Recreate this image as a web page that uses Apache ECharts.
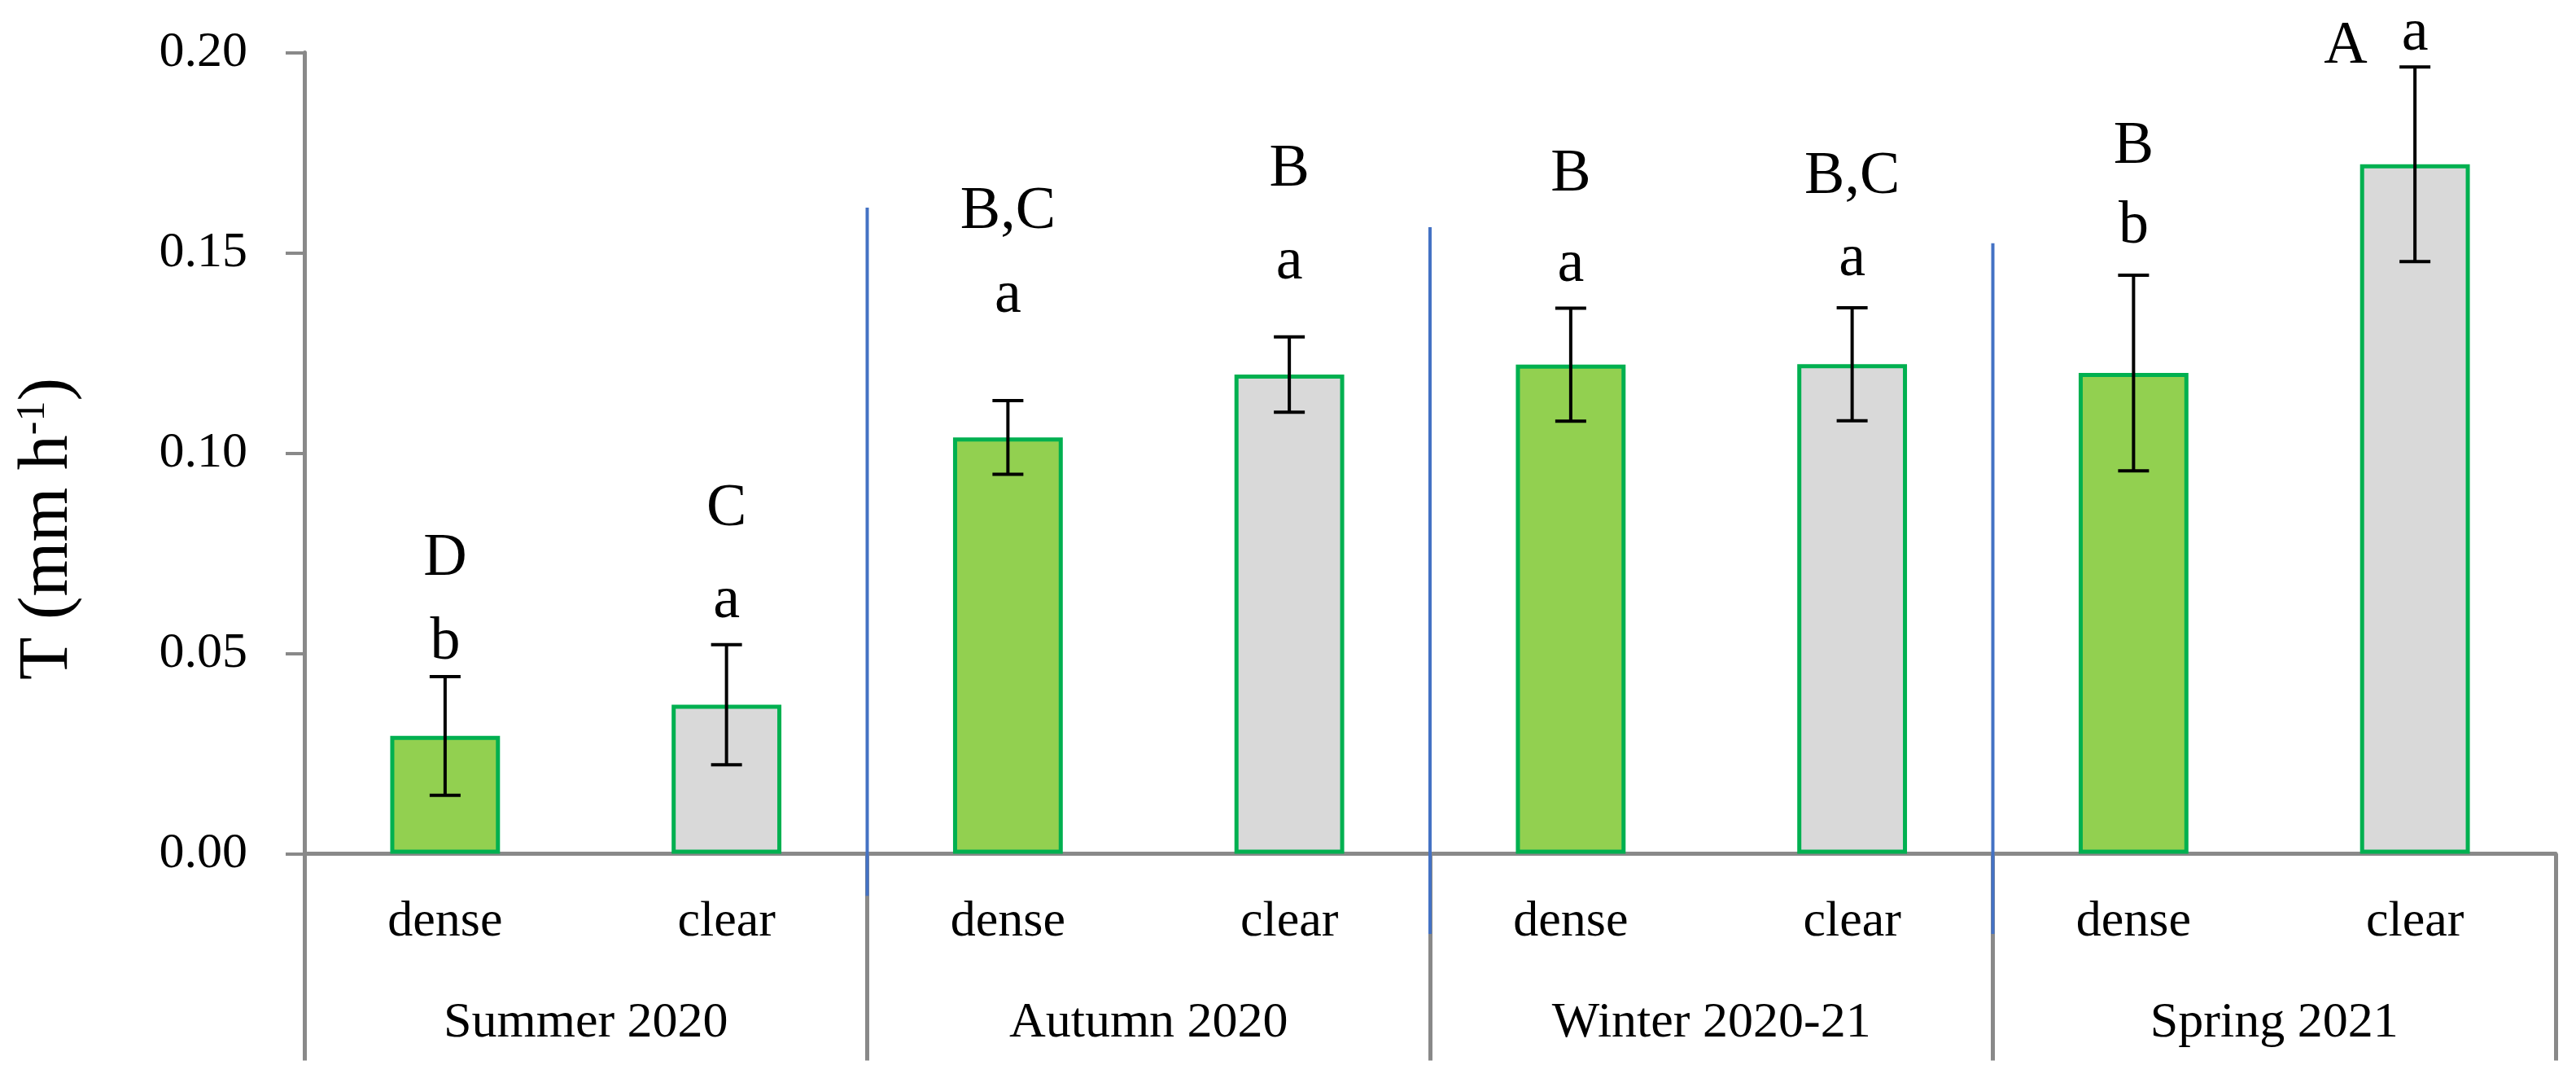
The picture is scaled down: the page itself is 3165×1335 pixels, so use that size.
<!DOCTYPE html>
<html>
<head>
<meta charset="utf-8">
<script src="https://cdn.jsdelivr.net/npm/echarts@6/dist/echarts.min.js"></script>
<style>
html,body{margin:0;padding:0;background:#fff;}
#chart{width:3165px;height:1335px;}
</style>
</head>
<body>
<div id="chart"></div>
<script>
// ---- data ----
const categories = ['dense', 'clear', 'dense', 'clear', 'dense', 'clear', 'dense', 'clear'];
const seasons = ['Summer 2020', 'Autumn 2020', 'Winter 2020-21', 'Spring 2021'];
const meanT = [0.0294, 0.0372, 0.1039, 0.1196, 0.1221, 0.1222, 0.1200, 0.1721];
const errT  = [0.0148, 0.0150, 0.0092, 0.0094, 0.0141, 0.0141, 0.0244, 0.0243];
const upperLetters = ['D', 'C', 'B,C', 'B', 'B', 'B,C', 'B', 'A'];
const lowerLetters = ['b', 'a', 'a', 'a', 'a', 'a', 'b', 'a'];
// letter anchors (baseline, in T units)
const upperAt = [0.0684, 0.0808, 0.1550, 0.1656, 0.1644, 0.1639, 0.1714, 0.1963];
const lowerAt = [0.0475, 0.0579, 0.1342, 0.1425, 0.1418, 0.1433, 0.1515, 0.1996];
// season divider lines: [category boundary index, top T, bottom T]
const dividers = [[2, 0.1613, -0.0105], [4, 0.1564, -0.0200], [6, 0.1524, -0.0200]];
const yMin = 0, yMax = 0.20, yStep = 0.05;

const FONT = '"Liberation Serif", "Times New Roman", serif';
const GRAY = '#898989';
const chart = echarts.init(document.getElementById('chart'), null, {renderer: 'canvas'});

const option = {
  animation: false,
  backgroundColor: '#ffffff',
  grid: {left: 374, right: 25, top: 64.5, bottom: 286.5, containLabel: false, outerBoundsMode: 'none'},
  xAxis: [
    {
      type: 'category', data: categories, position: 'bottom',
      axisLine: {show: true, lineStyle: {color: GRAY, width: 5}},
      axisTick: {show: false},
      axisLabel: {interval: 0, margin: 53, color: '#000', fontFamily: FONT, fontSize: 62}
    },
    {
      type: 'category', data: seasons, position: 'bottom', offset: 0,
      axisLine: {show: false},
      axisTick: {show: true, length: 254, interval: 0, lineStyle: {color: GRAY, width: 5}},
      axisLabel: {interval: 0, margin: 177, color: '#000', fontFamily: FONT, fontSize: 62}
    }
  ],
  yAxis: {
    type: 'value', min: yMin, max: yMax, interval: yStep,
    name: '{n|T (mm h}{s|-1}{n|)}',
    nameLocation: 'middle', nameRotate: 90, nameGap: 272,
    nameTextStyle: {
      color: '#000', fontFamily: FONT, fontSize: 86, padding: [0, 186, 0, 0],
      rich: {
        n: {fontFamily: FONT, fontSize: 86, color: '#000'},
        s: {fontFamily: FONT, fontSize: 50, color: '#000', verticalAlign: 'top'}
      }
    },
    axisLine: {show: true, lineStyle: {color: GRAY, width: 5}},
    axisTick: {show: true, length: 23, lineStyle: {color: GRAY, width: 4}},
    splitLine: {show: false},
    axisLabel: {margin: 70, color: '#000', fontFamily: FONT, fontSize: 62, formatter: v => v.toFixed(2)}
  },
  series: [
    {
      type: 'bar', xAxisIndex: 0, yAxisIndex: 0,
      data: meanT, barWidth: '39%',
      itemStyle: {
        color: p => (p.dataIndex % 2 === 0 ? '#92D050' : '#D9D9D9'),
        borderColor: '#00B050', borderWidth: 5
      },
      z: 2
    },
    {
      type: 'custom', xAxisIndex: 0, yAxisIndex: 0,
      data: meanT.map((m, i) => [i, m, errT[i]]),
      encode: {x: 0, y: 1},
      renderItem: (params, api) => {
        const i = api.value(0), m = api.value(1), e = api.value(2);
        const top = api.coord([i, m + e]), bot = api.coord([i, m - e]);
        const cap = 19;
        const st = {stroke: '#000', lineWidth: 4};
        return {type: 'group', children: [
          {type: 'line', shape: {x1: top[0], y1: top[1], x2: bot[0], y2: bot[1]}, style: st},
          {type: 'line', shape: {x1: top[0] - cap, y1: top[1], x2: top[0] + cap, y2: top[1]}, style: st},
          {type: 'line', shape: {x1: bot[0] - cap, y1: bot[1], x2: bot[0] + cap, y2: bot[1]}, style: st}
        ]};
      },
      z: 5
    },
    {
      type: 'custom', xAxisIndex: 0, yAxisIndex: 0,
      data: categories.map((c, i) => [i, upperAt[i], lowerAt[i]]),
      encode: {x: 0, y: 1},
      renderItem: (params, api) => {
        const i = api.value(0);
        const fs = 74;
        const up = api.coord([i, api.value(1)]);
        const lo = api.coord([i, api.value(2)]);
        let ux = up[0];
        if (Math.abs(up[1] - lo[1]) < 50) ux = up[0] - 1.15 * fs;
        const font = fs + 'px ' + FONT;
        return {type: 'group', children: [
          {type: 'text', style: {text: upperLetters[params.dataIndex], x: ux, y: up[1] - 0.3375 * fs,
            font: font, fill: '#000', align: 'center', verticalAlign: 'middle'}},
          {type: 'text', style: {text: lowerLetters[params.dataIndex], x: lo[0], y: lo[1] - 0.3375 * fs,
            font: font, fill: '#000', align: 'center', verticalAlign: 'middle'}}
        ]};
      },
      z: 6
    },
    {
      type: 'custom', xAxisIndex: 0, yAxisIndex: 0,
      data: dividers,
      encode: {x: 0, y: 1},
      clip: false,
      renderItem: (params, api) => {
        const b = api.value(0);
        const xa = api.coord([b - 1, 0])[0], xb = api.coord([b, 0])[0];
        const x = (xa + xb) / 2;
        const y1 = api.coord([b, api.value(1)])[1];
        const y2 = api.coord([b, api.value(2)])[1];
        return {type: 'line', shape: {x1: x, y1: y1, x2: x, y2: y2},
          style: {stroke: '#4472C4', lineWidth: 4}};
      },
      z: 7
    }
  ]
};
chart.setOption(option);
</script>
</body>
</html>
